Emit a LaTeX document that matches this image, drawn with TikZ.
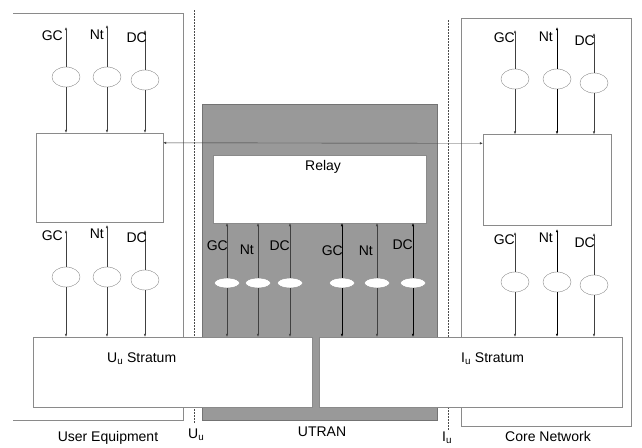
\documentclass[tikz,border=0pt]{standalone}
\usepackage{fontspec}
\setmainfont{Liberation Sans}
\usepackage{tikz}
\usetikzlibrary{shapes.geometric,arrows.meta,calc}

\definecolor{boxline}{HTML}{8A8A8A}
\definecolor{utrangray}{HTML}{999999}

\begin{document}
\begin{tikzpicture}[
        x=1pt, y=-1pt,
        every node/.style={font=\fontsize{14}{16}\selectfont},
        blk/.style={rectangle, draw=boxline, fill=white, inner sep=0pt},
        sap/.style={ellipse, draw=boxline, fill=white, minimum width=28pt, minimum height=20pt, inner sep=0pt},
        rsap/.style={ellipse, draw=boxline, fill=white, minimum width=25pt, minimum height=10pt, inner sep=0pt},
        arr/.style={-{Latex[length=3pt,width=2.4pt]}, draw=black!75},
        lbl/.style={inner sep=0pt, anchor=east},
        txt/.style={inner sep=0pt, anchor=base west},
        border/.style={draw=boxline, thick},
        iface/.style={draw=black!70, dash pattern=on 1.5pt off 1.5pt}
        ]
        \useasboundingbox (0,0) rectangle (642,447);

        % Domains and reference points
        \draw[border] (13,13) -- (183,13) -- (183,420) -- (13,420);
        \draw[border] (461,18) rectangle (631,426);
        \draw[iface] (194,10) -- (194,424);
        \draw[iface] (448,20) -- (448,430);
        \node[rectangle, draw=black!55, fill=utrangray, minimum width=235pt, minimum height=316pt, inner sep=0pt] (utran) at (319.5,262) {};

        % Blocks
        \node[blk, minimum width=127pt, minimum height=89pt] (ueblk) at (99.5,177.5) {};
        \node[blk, minimum width=128pt, minimum height=91pt] (cnblk) at (547,180) {};
        \node[blk, minimum width=213pt, minimum height=68pt] (relay) at (319.5,189) {};
        \node[blk, minimum width=279pt, minimum height=70pt] (uustr) at (172.5,372) {};
        \node[blk, minimum width=303pt, minimum height=70pt] (iustr) at (470.5,372) {};

        \node[txt] at (305,170) {Relay};
        \node[txt] at (107,362) {U\textsubscript{u} Stratum};
        \node[txt] at (461,362) {I\textsubscript{u} Stratum};

        \draw[{Latex[length=3pt,width=2.4pt]}-{Latex[length=3pt,width=2.4pt]}, draw=black!75] ([yshift=-10pt]ueblk.north east) -- ([yshift=-9pt]cnblk.north west);

        % User Equipment, upper SAPs
        \node[sap] (ueGCa) at (66,77) {};
        \node[sap] (ueNta) at (107,77) {};
        \node[sap] (ueDCa) at (145,80) {};
        \coordinate (ueGCatop) at (66,27);
        \coordinate (ueNtatop) at (107,25);
        \coordinate (ueDCatop) at (145,30);
        \draw[arr] (ueGCa.north) -- (ueGCatop);
        \draw[arr] (ueNta.north) -- (ueNtatop);
        \draw[arr] (ueDCa.north) -- (ueDCatop);
        \draw[arr] (ueGCa.south) -- (ueGCa.south |- ueblk.north);
        \draw[arr] (ueNta.south) -- (ueNta.south |- ueblk.north);
        \draw[arr] (ueDCa.south) -- (ueDCa.south |- ueblk.north);
        \node[lbl] at (63,36) {GC};
        \node[lbl] at (104,35) {Nt};
        \node[lbl] at (147,38) {DC};

        % User Equipment, lower SAPs
        \node[sap] (ueGCb) at (66,277) {};
        \node[sap] (ueNtb) at (107,277) {};
        \node[sap] (ueDCb) at (145,280) {};
        \coordinate (ueGCbtop) at (66,230);
        \coordinate (ueNtbtop) at (107,225);
        \coordinate (ueDCbtop) at (145,230);
        \draw[arr] (ueGCb.north) -- (ueGCbtop);
        \draw[arr] (ueNtb.north) -- (ueNtbtop);
        \draw[arr] (ueDCb.north) -- (ueDCbtop);
        \draw[arr] (ueGCb.south) -- (ueGCb.south |- uustr.north);
        \draw[arr] (ueNtb.south) -- (ueNtb.south |- uustr.north);
        \draw[arr] (ueDCb.south) -- (ueDCb.south |- uustr.north);
        \node[lbl] at (63,236) {GC};
        \node[lbl] at (104,234) {Nt};
        \node[lbl] at (147,238) {DC};

        % Core Network, upper SAPs
        \node[sap] (cnGCa) at (515,79) {};
        \node[sap] (cnNta) at (557,79) {};
        \node[sap] (cnDCa) at (594,83) {};
        \coordinate (cnGCatop) at (515,30);
        \coordinate (cnNtatop) at (557,27);
        \coordinate (cnDCatop) at (594,33);
        \draw[arr] (cnGCa.north) -- (cnGCatop);
        \draw[arr, thick, draw=black] (cnNta.north) -- (cnNtatop);
        \draw[arr] (cnDCa.north) -- (cnDCatop);
        \draw[arr] (cnGCa.south) -- (cnGCa.south |- cnblk.north);
        \draw[arr, thick, draw=black] (cnNta.south) -- (cnNta.south |- cnblk.north);
        \draw[arr] (cnDCa.south) -- (cnDCa.south |- cnblk.north);
        \node[lbl] at (515,38) {GC};
        \node[lbl] at (553,37) {Nt};
        \node[lbl] at (595,41) {DC};

        % Core Network, lower SAPs
        \node[sap] (cnGCb) at (515,282) {};
        \node[sap] (cnNtb) at (557,282) {};
        \node[sap] (cnDCb) at (594,285) {};
        \coordinate (cnGCbtop) at (515,232);
        \coordinate (cnNtbtop) at (557,229);
        \coordinate (cnDCbtop) at (594,233);
        \draw[arr] (cnGCb.north) -- (cnGCbtop);
        \draw[arr, thick, draw=black] (cnNtb.north) -- (cnNtbtop);
        \draw[arr] (cnDCb.north) -- (cnDCbtop);
        \draw[arr] (cnGCb.south) -- (cnGCb.south |- iustr.north);
        \draw[arr, thick, draw=black] (cnNtb.south) -- (cnNtb.south |- iustr.north);
        \draw[arr] (cnDCb.south) -- (cnDCb.south |- iustr.north);
        \node[lbl] at (515,240) {GC};
        \node[lbl] at (553,238) {Nt};
        \node[lbl] at (595,243) {DC};

        % UTRAN relay SAPs
        \node[rsap] (rGCa) at (227,283) {};
        \node[rsap] (rNta) at (258,283) {};
        \node[rsap] (rDCa) at (290,283) {};
        \node[rsap] (rGCb) at (342,283) {};
        \node[rsap] (rNtb) at (377,283) {};
        \node[rsap] (rDCb) at (413,283) {};
        \draw[arr] (rGCa.north) -- (rGCa.north |- relay.south);
        \draw[arr] (rNta.north) -- (rNta.north |- relay.south);
        \draw[arr] (rDCa.north) -- (rDCa.north |- relay.south);
        \draw[arr, draw=black] (rGCb.north) -- (rGCb.north |- relay.south);
        \draw[arr] (rNtb.north) -- (rNtb.north |- relay.south);
        \draw[arr, draw=black] (rDCb.north) -- (rDCb.north |- relay.south);
        \draw[arr] (rGCa.south) -- (rGCa.south |- uustr.north);
        \draw[arr] (rNta.south) -- (rNta.south |- uustr.north);
        \draw[arr] (rDCa.south) -- (rDCa.south |- uustr.north);
        \draw[arr, draw=black] (rGCb.south) -- (rGCb.south |- iustr.north);
        \draw[arr] (rNtb.south) -- (rNtb.south |- iustr.north);
        \draw[arr, draw=black] (rDCb.south) -- (rDCb.south |- iustr.north);
        \node[lbl] at (228,246) {GC};
        \node[lbl] at (254,250) {Nt};
        \node[lbl] at (290,246) {DC};
        \node[lbl] at (343,251) {GC};
        \node[lbl] at (373,251) {Nt};
        \node[lbl] at (413,245) {DC};

        % Domain and interface names
        \node[inner sep=0pt, anchor=base] at (108,441) {User Equipment};
        \node[txt] at (188,438) {U\textsubscript{u}};
        \node[inner sep=0pt, anchor=base] at (322,436) {UTRAN};
        \node[txt] at (442,441) {I\textsubscript{u}};
        \node[inner sep=0pt, anchor=base] at (548,441) {Core Network};
\end{tikzpicture}
\end{document}
